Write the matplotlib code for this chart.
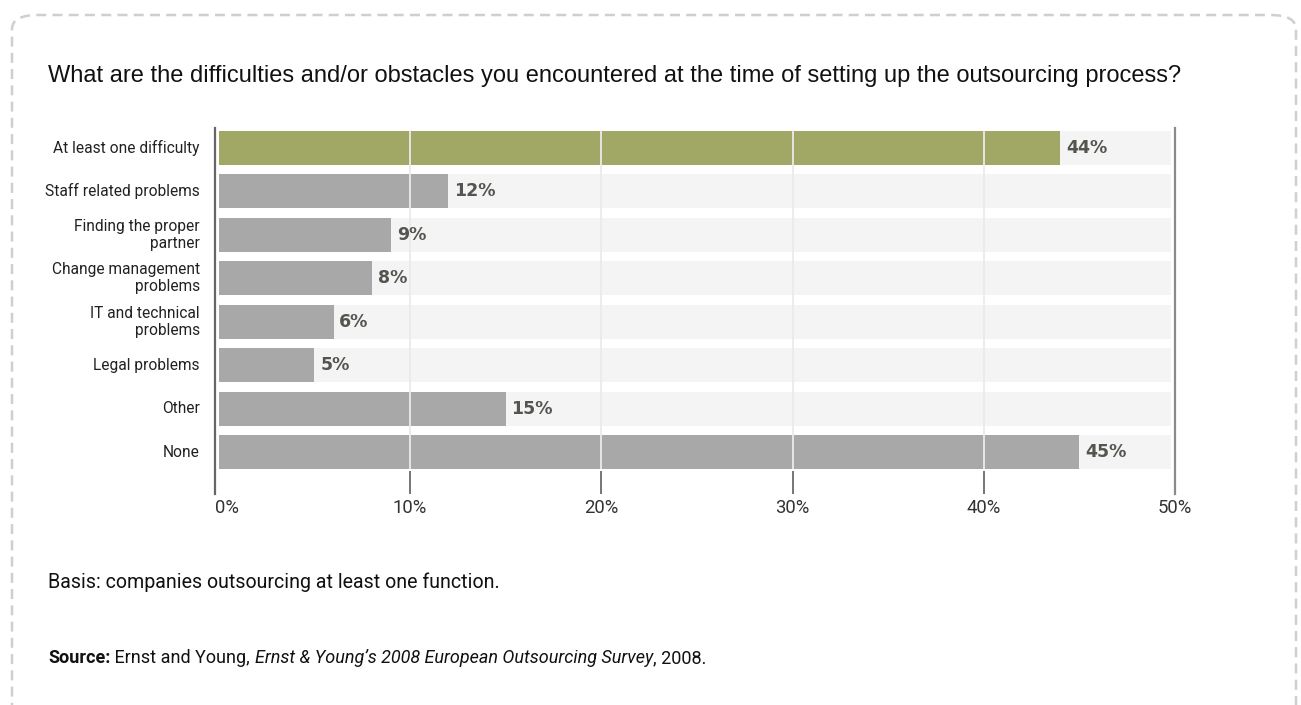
import matplotlib
matplotlib.use("Agg")
import matplotlib.pyplot as plt
from matplotlib.patches import FancyBboxPatch

categories = ["At least one difficulty", "Staff related problems",
              "Finding the proper\npartner", "Change management\nproblems",
              "IT and technical\nproblems", "Legal problems", "Other", "None"]
values = [44, 12, 9, 8, 6, 5, 15, 45]
ticks = [0, 10, 20, 30, 40, 50]

GREEN = "#a1a866"
GREY = "#a8a8a8"
BACK = "#f4f4f4"
LABEL = "#555550"
NARROW = ["Roboto", "DejaVu Sans"]
SANS = ["Liberation Sans", "DejaVu Sans"]

W, H = 1301, 705
fig = plt.figure(figsize=(W / 100, H / 100), dpi=100)

# dashed rounded frame, open at the bottom edge
frame = FancyBboxPatch((12 / W, -0.2), 1284 / W, 1 + 0.2 - 15 / H,
                       boxstyle="round,pad=0,rounding_size=0.02",
                       transform=fig.transFigure, fill=False,
                       edgecolor="#cfcfcf", lw=1.8, ls=(0, (4, 2.5)))
fig.patches.append(frame)

ax = fig.add_axes([215 / W, 1 - 494 / H, (1175 - 215) / W, (494 - 128) / H])
n = len(values)
y = list(range(n))
ax.set_xlim(-0.2, 50)
ax.set_ylim(n - 1 + 0.967, -0.46)

ax.barh(y, 49.8, height=0.78, color=BACK, zorder=1)
colors = [GREEN] + [GREY] * (n - 1)
bars = ax.barh(y, values, height=0.78, color=colors, zorder=2)

for t in ticks[1:-1]:
    ax.vlines(t, -0.39, n - 1 + 0.39, color="#ebebeb", lw=1.3, zorder=3)
    ax.vlines(t, n - 1 + 0.43, n - 1 + 0.967, color="#6a6a6a", lw=1.3, zorder=3)
ax.axvline(-0.2, color="#666666", lw=1.6, clip_on=False, zorder=4)
ax.axvline(50, color="#8a8a8a", lw=1.6, clip_on=False, zorder=4)

for b, v in zip(bars, values):
    ax.text(v + 0.3, b.get_y() + b.get_height() / 2, f"{v}%",
            ha="left", va="center", fontsize=12.5, fontweight="bold",
            color=LABEL, family=["DejaVu Sans"], zorder=5)

for yi, c in zip(y, categories):
    ax.text(-1.0, yi, c, ha="right", va="center", fontsize=11.2,
            family=NARROW, color="#222222", linespacing=1.2)

for t in ticks:
    ax.text(t if t else -0.2, n - 1 + 1.3, f"{t}%", ha="left" if t == 0 else "center",
            va="center", fontsize=13.3, family=NARROW, color="#333333")

ax.set_xticks([])
ax.set_yticks([])
for s in ax.spines.values():
    s.set_visible(False)
ax.patch.set_alpha(0)

fig.text(48 / W, 1 - 76 / H,
         "What are the difficulties and/or obstacles you encountered at the time of setting up the outsourcing process?",
         ha="left", va="center", fontsize=17, family=SANS, color="#111111")
fig.text(48 / W, 1 - 582 / H, "Basis: companies outsourcing at least one function.",
         ha="left", va="center", fontsize=14.1, family=NARROW, color="#111111")

# source line built from pieces with different weights and styles
renderer = fig.canvas.get_renderer()
pieces = [("Source:", "bold", "normal"), (" Ernst and Young, ", "normal", "normal"),
          ("Ernst & Young\u2019s 2008 European Outsourcing Survey", "normal", "italic"),
          (", 2008.", "normal", "normal")]
x = 48
for txt, wt, st in pieces:
    t = fig.text(x / W, 1 - 658 / H, txt, ha="left", va="center", fontsize=13,
                 fontweight=wt, fontstyle=st, family=NARROW, color="#111111")
    x += t.get_window_extent(renderer).width

fig.savefig("out.png", dpi=100)
